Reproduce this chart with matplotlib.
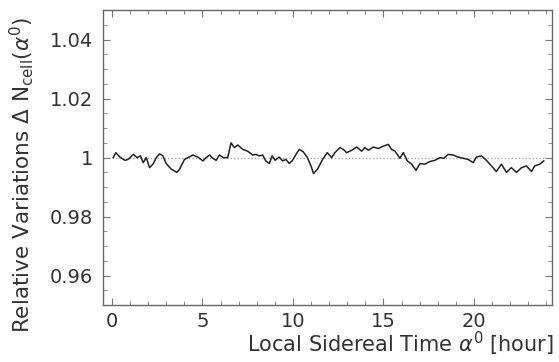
import matplotlib
matplotlib.use("Agg")
import matplotlib.pyplot as plt
from matplotlib.ticker import MultipleLocator

plt.rcParams['font.family'] = ['DejaVu Sans']
plt.rcParams['mathtext.fontset'] = 'dejavusans'

# local sidereal time [hour] and relative variation
lst_hour = [0.07, 0.22, 0.44, 0.72, 0.9, 1.18, 1.4, 1.58, 1.73, 1.9, 2.08, 2.27,
            2.45, 2.64, 2.82, 3.0, 3.28, 3.59, 3.74, 4.01, 4.2, 4.47, 4.75, 5.03,
            5.2, 5.4, 5.57, 5.76, 5.94, 6.16, 6.4, 6.58, 6.77, 6.95, 7.23, 7.5,
            7.78, 7.96, 8.14, 8.33, 8.5, 8.7, 8.85, 9.02, 9.24, 9.43, 9.61, 9.8,
            9.98, 10.17, 10.35, 10.57, 10.8, 11.0, 11.14, 11.36, 11.64, 11.9,
            12.14, 12.32, 12.6, 12.78, 12.97, 13.25, 13.52, 13.8, 13.98, 14.17,
            14.44, 14.72, 15.0, 15.27, 15.45, 15.64, 15.91, 16.1, 16.32, 16.56,
            16.8, 17.02, 17.3, 17.57, 17.85, 18.12, 18.34, 18.58, 18.85, 19.13,
            19.4, 19.68, 19.96, 20.14, 20.42, 20.69, 20.97, 21.24, 21.52, 21.8,
            22.07, 22.35, 22.63, 22.9, 23.18, 23.36, 23.64, 23.86]
rel_var = [1.000, 1.0017, 1.0002, 0.9991, 0.9994, 1.0011, 1.000, 1.0006, 0.9983,
           1.000, 0.9966, 0.9978, 1.000, 1.0013, 1.0006, 0.998, 0.9961, 0.995,
           0.9961, 0.9994, 1.000, 1.0009, 1.0002, 0.9989, 1.000, 1.0009, 0.9998,
           0.9991, 1.0009, 1.000, 1.000, 1.005, 1.0034, 1.0043, 1.0028, 1.0022,
           1.0009, 1.0011, 1.0006, 1.0009, 0.9989, 0.998, 1.0006, 0.9991, 1.0002,
           0.9989, 0.9994, 0.998, 0.9991, 1.0011, 1.0028, 1.002, 1.000, 0.9972,
           0.9946, 0.9961, 0.9994, 1.0017, 1.000, 1.0017, 1.0034, 1.0028, 1.0017,
           1.0025, 1.0036, 1.0022, 1.0034, 1.0025, 1.0036, 1.0031, 1.0039, 1.0045,
           1.0028, 1.0022, 0.9998, 1.0017, 0.9989, 0.9978, 0.9957, 0.998, 0.9978,
           0.9987, 0.9991, 1.000, 0.9998, 1.0011, 1.0009, 1.0002, 0.9998, 0.9994,
           0.9983, 1.0002, 1.0006, 0.9991, 0.9972, 0.9953, 0.9978, 0.995, 0.9966,
           0.995, 0.9966, 0.9972, 0.9953, 0.9972, 0.9978, 0.9989]

x_ticks = [0, 5, 10, 15, 20]
y_ticks = [0.96, 0.98, 1.0, 1.02, 1.04]
y_ticklabels = ['0.96', '0.98', '1', '1.02', '1.04']

fig = plt.figure(figsize=(5.59, 3.62), dpi=100)
ax = fig.add_axes([0.184, 0.157, 0.803, 0.815])

ax.plot([0, 24], [1, 1], color='#aaaaaa', lw=1.0, ls=(0, (1, 1.5)))
ax.plot(lst_hour, rel_var, color='#222222', lw=1.1)

ax.set_xlim(-0.5, 24.3)
ax.set_ylim(0.95, 1.05)
ax.set_xticks(x_ticks)
ax.set_yticks(y_ticks)
ax.set_yticklabels(y_ticklabels)
ax.xaxis.set_minor_locator(MultipleLocator(1))
ax.yaxis.set_minor_locator(MultipleLocator(0.005))

for s in ax.spines.values():
    s.set_color('#666666')
    s.set_linewidth(1.0)

ax.tick_params(which='both', top=True, right=True, direction='in',
               color='#777777', labelsize=14, labelcolor='#333333')
ax.tick_params(which='major', length=5, width=0.8)
ax.tick_params(which='minor', length=3, width=0.6)
ax.tick_params(axis='x', pad=5)
ax.tick_params(axis='y', pad=7)

ax.set_xlabel(r'Local Sidereal Time $\alpha^0$ [hour]', fontsize=15,
              color='#333333', ha='right', x=1.005, labelpad=-1)
ax.set_ylabel(r'Relative Variations $\Delta$ N$_{\rm cell}$($\alpha^0$)',
              fontsize=15.5, color='#333333', y=0.44, labelpad=10)

fig.savefig('out.png', dpi=100)
